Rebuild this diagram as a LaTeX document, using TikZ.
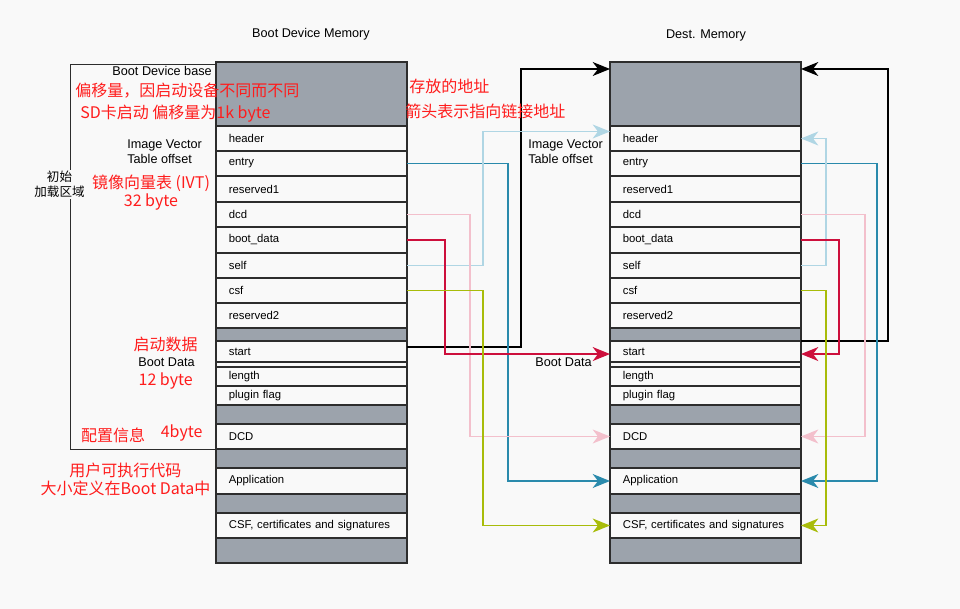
\documentclass[tikz,border=0pt]{standalone}
\usepackage{fontspec}
\usepackage{tikz}
\usetikzlibrary{arrows.meta}
\setmainfont{Liberation Sans}
\newfontfamily\cjk{Noto Sans CJK SC}
\definecolor{bgcol}{RGB}{249,249,249}
\definecolor{memgray}{RGB}{156,163,172}
\definecolor{memwhite}{RGB}{249,249,249}
\definecolor{memline}{RGB}{45,45,45}
\definecolor{annored}{RGB}{255,28,28}
\definecolor{linkteal}{RGB}{42,138,172}
\definecolor{linksky}{RGB}{176,214,228}
\definecolor{linkpink}{RGB}{243,192,204}
\definecolor{linkred}{RGB}{205,15,60}
\definecolor{linkolive}{RGB}{168,188,10}

\begin{document}
\begin{tikzpicture}[x=0.75pt, y=-0.75pt,
    memrow/.style={draw=memline, line width=0.8pt, anchor=north west, minimum width=143.25pt,
        text width=124pt, inner xsep=9.6pt, inner ysep=0pt, outer sep=0pt, align=left,
        font=\fontsize{8.5}{10}\selectfont},
    title/.style={font=\fontsize{9.5}{11.25}\selectfont, inner sep=0pt},
    note/.style={text=annored, font=\cjk\fontsize{12}{13.5}\selectfont, inner sep=0pt},
    tip/.tip={Stealth[length=13pt, width=10.5pt, inset=4pt]},
    link/.style={line width=0.9pt, -tip}]

    % Background
    \fill[bgcol] (0,0) rectangle (960,609);

    % Memory rows, boot device on the left, destination on the right
    \foreach \nm/\txt/\ya/\yb/\fc in {
        top//62/126/memgray,
        head/header/126/151/memwhite,
        entry/entry/151/176/memwhite,
        res1/reserved1/176/202/memwhite,
        dcd/dcd/202/227/memwhite,
        boot/boot\_data/227/253/memwhite,
        self/self/253/278/memwhite,
        csf/csf/278/303/memwhite,
        res2/reserved2/303/328/memwhite,
        gapa//328/341/memgray,
        start/start/341/362/memwhite,
        strip//362/367/memwhite,
        len/length/367/386/memwhite,
        plug/plugin flag/386/405/memwhite,
        gapb//405/424/memgray,
        dcdblk/DCD/424/449/memwhite,
        gapc//449/468/memgray,
        app/Application/468/494/memwhite,
        gapd//494/513/memgray,
        cert/{CSF, certificates and signatures}/513/538/memwhite,
        gape//538/563/memgray} {
        \node[memrow, fill=\fc, minimum height={(\yb-\ya)*0.75pt}] (l\nm) at (216,\ya) {\txt};
        \node[memrow, fill=\fc, minimum height={(\yb-\ya)*0.75pt}] (r\nm) at (610,\ya) {\txt};
    }

    % Initial load region bracket
    \draw[memline, line width=0.7pt] ([yshift=-1.5pt]ltop.north west) -- (70,64) |- (ldcdblk.south west);

    % Links
    \draw[link, black, line width=1.1pt] ([yshift=-4.5pt]lstart.north east) -- ++(114,0) |- ([yshift=-5.25pt]rtop.north west);
    \draw[link, black, line width=1.1pt] (rstart.north east) -- ++(87,0) |- ([yshift=-5.25pt]rtop.north east);
    \draw[link, linkteal, line width=1.1pt] (lentry.east) -- ++(101,0) |- (rapp.west);
    \draw[link, linkteal, line width=1.1pt] (rentry.east) -- ++(76,0) |- (rapp.east);
    \draw[link, linksky] (lself.east) -- ++(76,0) |- ([yshift=5.25pt]rhead.west);
    \draw[link, linksky] (rself.east) -- ++(25,0) |- (rhead.east);
    \draw[link, linkpink] (ldcd.east) -- ++(63,0) |- (rdcdblk.west);
    \draw[link, linkpink] (rdcd.east) -- ++(64,0) |- (rdcdblk.east);
    \draw[link, linkred] (lboot.east) -- ++(38,0) |- ([yshift=-1.9pt]rstart.west);
    \draw[link, linkred] (rboot.east) -- ++(38,0) |- ([yshift=-1.9pt]rstart.east);
    \draw[link, linkolive] (lcsf.east) -- ++(76,0) |- (rcert.west);
    \draw[link, linkolive] (rcsf.east) -- ++(25,0) |- (rcert.east);

    % Titles
    \node[title] (bootmem) at (311,34) {Boot Device Memory};
    \node[title] (destmem) at (706,35) {Dest. Memory};

    % Left labels
    \node[title, anchor=east] (devbase) at (212,71) {Boot Device base};
    \node[note, anchor=west] (offset) at (75,91) {偏移量，因启动设备不同而不同};
    \node[note, anchor=west] (sdoffset) at (80,114) {SD卡启动 偏移量为1k byte};
    \node[title, anchor=west, align=left] (ivtl) at (127,151.5) {Image Vector\\Table offset};
    \node[title, font=\cjk\fontsize{9.4}{11.5}\selectfont, fill=bgcol, align=center, inner sep=1pt] (initzone) at (59.5,184.5) {初始\\加载区域};
    \node[note, align=center] (ivtsize) at (151,193) {镜像向量表 (IVT)\\32 byte};
    \node[note] (bootcn) at (165.5,344) {启动数据};
    \node[title] (bootl) at (166.5,362.5) {Boot Data};
    \node[note] (bootsize) at (165.7,381.5) {12 byte};
    \node[note] (dcdcn) at (113,435) {配置信息};
    \node[note] (dcdsize) at (181.7,433.5) {4byte};
    \node[note, align=center] (appnote) at (125.5,479.5) {用户可执行代码\\大小定义在Boot Data中};

    % Middle labels
    \node[note, anchor=west] (addrnote) at (409,86.5) {存放的地址};
    \node[note, anchor=west] (arrownote) at (405,111) {箭头表示指向链接地址};
    \node[title, anchor=west, align=left] (ivtr) at (528,151.5) {Image Vector\\Table offset};
    \node[title, anchor=east] (bootr) at (592,362) {Boot Data};
\end{tikzpicture}
\end{document}
